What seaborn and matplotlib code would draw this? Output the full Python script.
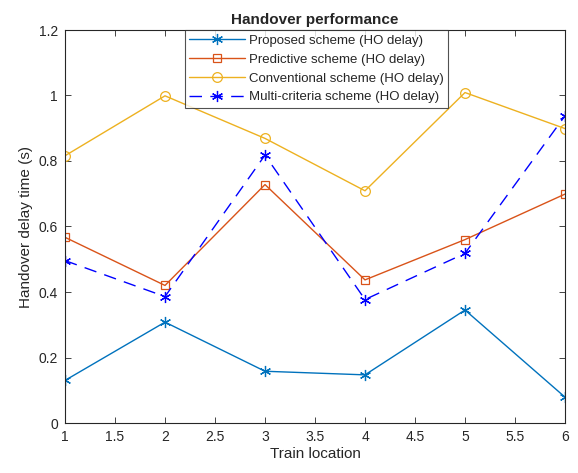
import matplotlib
matplotlib.use("Agg")
import matplotlib.pyplot as plt
import seaborn as sns
import pandas as pd

train_location = [1, 2, 3, 4, 5, 6]
proposed = [0.130, 0.308, 0.158, 0.147, 0.345, 0.079]
predictive = [0.567, 0.420, 0.728, 0.437, 0.560, 0.699]
conventional = [0.816, 0.999, 0.869, 0.709, 1.009, 0.899]
multi_criteria = [0.496, 0.386, 0.818, 0.377, 0.518, 0.938]

labels = ["Proposed scheme (HO delay)", "Predictive scheme (HO delay)",
          "Conventional scheme (HO delay)", "Multi-criteria scheme (HO delay)"]
series = [proposed, predictive, conventional, multi_criteria]
colors = ["#0072BD", "#D95319", "#EDB120", "#0000FF"]
asterisk = (6, 2, 0)
markers = [asterisk, "s", "o", asterisk]
msizes = [8, 5.5, 7, 8]
styles = ["-", "-", "-", (0, (9, 6))]

sns.set_theme(style="white")
plt.rcParams['font.family'] = ['Liberation Sans', 'DejaVu Sans']

fig = plt.figure(figsize=(5.78, 4.73), dpi=100)
ax = fig.add_axes([65/578, 1 - 423/473, 500/578, 393/473])

for lab, vals, c, m, ms, ls in zip(labels, series, colors, markers, msizes, styles):
    df = pd.DataFrame({"x": train_location, "y": vals})
    is_ast = not isinstance(m, str)
    sns.lineplot(data=df, x="x", y="y", ax=ax, color=c, marker=m, linestyle=ls,
                 linewidth=1.0, markersize=ms,
                 markerfacecolor="none" if not is_ast else c,
                 markeredgecolor=c, markeredgewidth=0.9, label=lab)

ax.set_xlim(1, 6)
ax.set_ylim(0, 1.2)
ax.set_xticks([1, 1.5, 2, 2.5, 3, 3.5, 4, 4.5, 5, 5.5, 6])
ax.set_xticklabels(["1", "1.5", "2", "2.5", "3", "3.5", "4", "4.5", "5", "5.5", "6"])
ax.set_yticks([0, 0.2, 0.4, 0.6, 0.8, 1.0, 1.2])
ax.set_yticklabels(["0", "0.2", "0.4", "0.6", "0.8", "1", "1.2"])
ax.tick_params(direction="in", length=4, width=0.6, colors="#262626", labelsize=10,
               top=True, right=True, bottom=True, left=True, pad=5)
for s in ax.spines.values():
    s.set_color("#262626")
    s.set_linewidth(0.8)
ax.set_xlabel("Train location", fontsize=11, color="#262626", labelpad=2)
ax.set_ylabel("Handover delay time (s)", fontsize=11, color="#262626", labelpad=4)
ax.set_title("Handover performance", fontsize=11, fontweight="bold", pad=4)

leg = ax.legend(loc="upper center", bbox_to_anchor=(0.503, 1.0), frameon=True,
                fancybox=False, edgecolor="#262626", fontsize=9.5,
                borderpad=0.35, labelspacing=0.5, handlelength=4.2,
                handletextpad=0.3, borderaxespad=0.0)
leg.get_frame().set_linewidth(0.8)

fig.savefig("out.png", dpi=100)
